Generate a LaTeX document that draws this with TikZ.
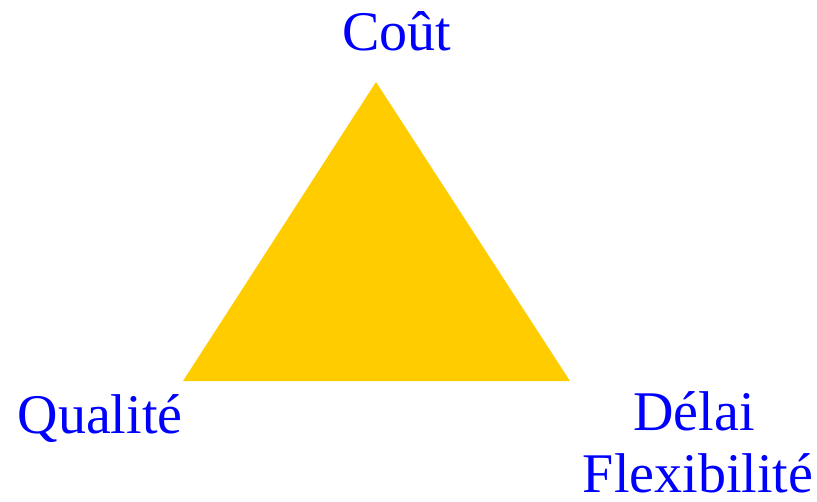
\documentclass[tikz,border=0pt]{standalone}
\usepackage{fontspec}
\setmainfont{Liberation Serif}
\usepackage{xcolor}
\usetikzlibrary{positioning}
\definecolor{triyellow}{HTML}{FFCC00}
\definecolor{labelblue}{HTML}{0000FF}
\tikzset{
	cornerlabel/.style={anchor=base, inner sep=0pt, text=labelblue, font=\fontsize{56}{66}\selectfont},
}
\begin{document}
\begin{tikzpicture}[x=1pt, y=-1pt]
	\useasboundingbox (0,0) rectangle (817,501);
	\coordinate (top) at (376,82);
	\coordinate (left) at (183,381);
	\coordinate (right) at (570,381);
	\fill[triyellow] (top) -- (left) -- (right) -- cycle;
	\node[cornerlabel] (cout) at (397,50) {Coût};
	\node[cornerlabel] (qual) at (100,433) {Qualité};
	\node[cornerlabel] (delai) at (694,430) {Délai};
	\node[cornerlabel] (flex) at (698,492) {Flexibilité};
\end{tikzpicture}
\end{document}
